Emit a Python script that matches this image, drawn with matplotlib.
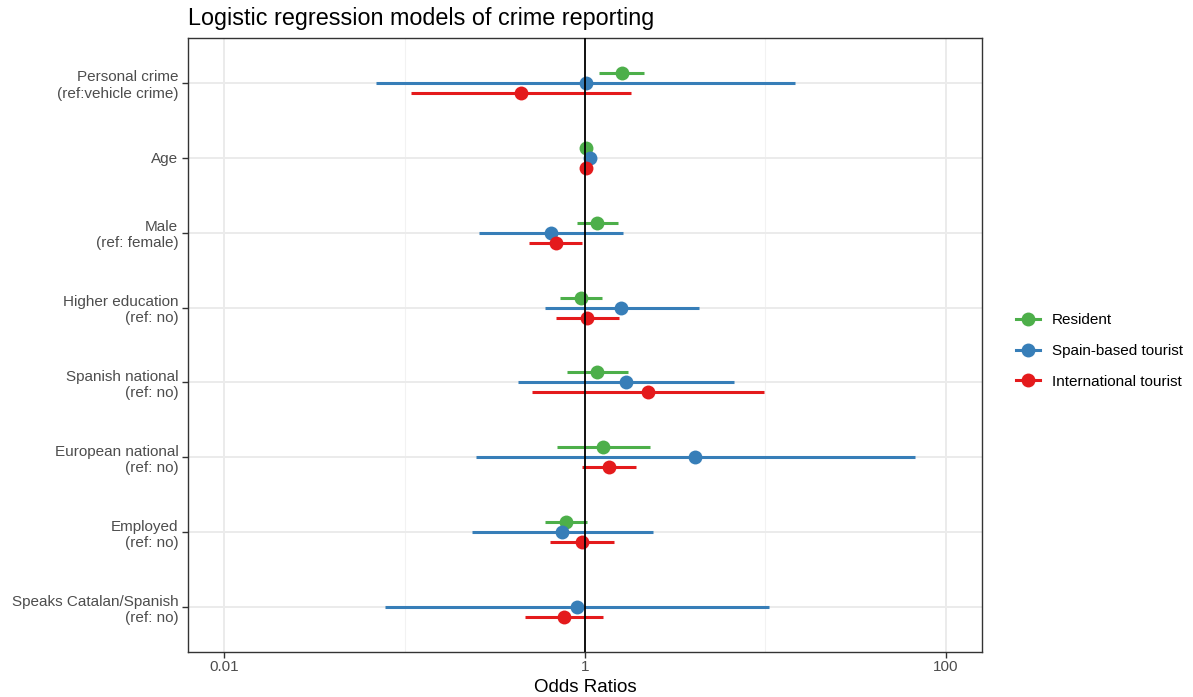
import matplotlib
matplotlib.use('Agg')
from matplotlib import pyplot as plt
from matplotlib.lines import Line2D
from matplotlib.ticker import NullFormatter
import numpy as np

plt.rcParams['font.family'] = ['Liberation Sans', 'DejaVu Sans']

# categories, top to bottom
terms = ['Personal crime\n(ref:vehicle crime)', 'Age', 'Male\n(ref: female)',
         'Higher education\n(ref: no)', 'Spanish national\n(ref: no)',
         'European national\n(ref: no)', 'Employed\n(ref: no)',
         'Speaks Catalan/Spanish\n(ref: no)']

groups = ['Resident', 'Spain-based tourist', 'International tourist']
colors = ['#4DAF4A', '#377EB8', '#E41A1C']

# odds ratios and 95% CIs (nan = not estimated)
resident_or = [1.60, 1.01, 1.17, 0.947, 1.17, 1.26, 0.784, np.nan]
resident_lo = [1.20, 0.99, 0.906, 0.727, 0.792, 0.700, 0.597, np.nan]
resident_hi = [2.13, 1.03, 1.52, 1.24, 1.73, 2.28, 1.03, np.nan]

spain_or = [1.01, 1.06, 0.648, 1.59, 1.69, 4.08, 0.750, 0.898]
spain_lo = [0.0695, 1.03, 0.259, 0.598, 0.427, 0.248, 0.236, 0.0775]
spain_hi = [14.6, 1.09, 1.63, 4.27, 6.67, 67.6, 2.39, 10.4]

intl_or = [0.442, 1.017, 0.688, 1.03, 2.24, 1.36, 0.962, 0.761]
intl_lo = [0.108, 1.00, 0.491, 0.694, 0.511, 0.958, 0.641, 0.463]
intl_hi = [1.80, 1.03, 0.959, 1.54, 9.85, 1.92, 1.45, 1.26]

est = [resident_or, spain_or, intl_or]
lo = [resident_lo, spain_lo, intl_lo]
hi = [resident_hi, spain_hi, intl_hi]

fig = plt.figure(figsize=(11.93, 6.97), dpi=100)
ax = fig.add_axes([188 / 1193, 1 - 652 / 697, (982 - 188) / 1193, (652 - 38) / 697])

ypos = np.arange(1, len(terms) + 1)
offsets = [-0.1333, 0, 0.1333]

for g in range(3):
    y = ypos + offsets[g]
    ax.hlines(y, lo[g], hi[g], color=colors[g], lw=2.2, zorder=3)
    ax.plot(est[g], y, 'o', color=colors[g], ms=10, mew=0, zorder=4)

ax.axvline(1, color='black', lw=1.3, zorder=5)

ax.set_xscale('log')
ax.set_xlim(10 ** -2.2, 10 ** 2.2)
ax.set_ylim(len(terms) + 0.6, 0.4)
ax.set_xticks([0.01, 1, 100])
ax.set_xticklabels(['0.01', '1', '100'])
ax.set_xticks([0.1, 10], minor=True)
ax.xaxis.set_minor_formatter(NullFormatter())
ax.set_yticks(ypos)
ax.set_yticklabels(terms)

ax.grid(which='major', color='#EBEBEB', lw=1.4, zorder=0)
ax.grid(which='minor', axis='x', color='#F2F2F2', lw=0.8, zorder=0)
ax.set_axisbelow(True)
ax.tick_params(which='major', length=4, width=1, color='#333333',
               labelcolor='#4D4D4D', labelsize=11, pad=3)
ax.tick_params(axis='x', which='major', pad=2)
ax.tick_params(which='minor', length=0)
for s in ax.spines.values():
    s.set_color('#333333')
    s.set_linewidth(1)

ax.set_xlabel('Odds Ratios', fontsize=13.5, labelpad=3)
ax.set_title('Logistic regression models of crime reporting', fontsize=16.8,
             loc='left', pad=9)

handles = [Line2D([0], [0], color=c, lw=2.2, marker='o', ms=10, mew=0) for c in colors]
fig.legend(handles, groups, loc='center left', bbox_to_anchor=(1002 / 1193, 1 - 351 / 697),
           frameon=False, fontsize=11, handlelength=1.6, labelspacing=1.1,
           handletextpad=0.75)

fig.savefig('out.png', dpi=100)
